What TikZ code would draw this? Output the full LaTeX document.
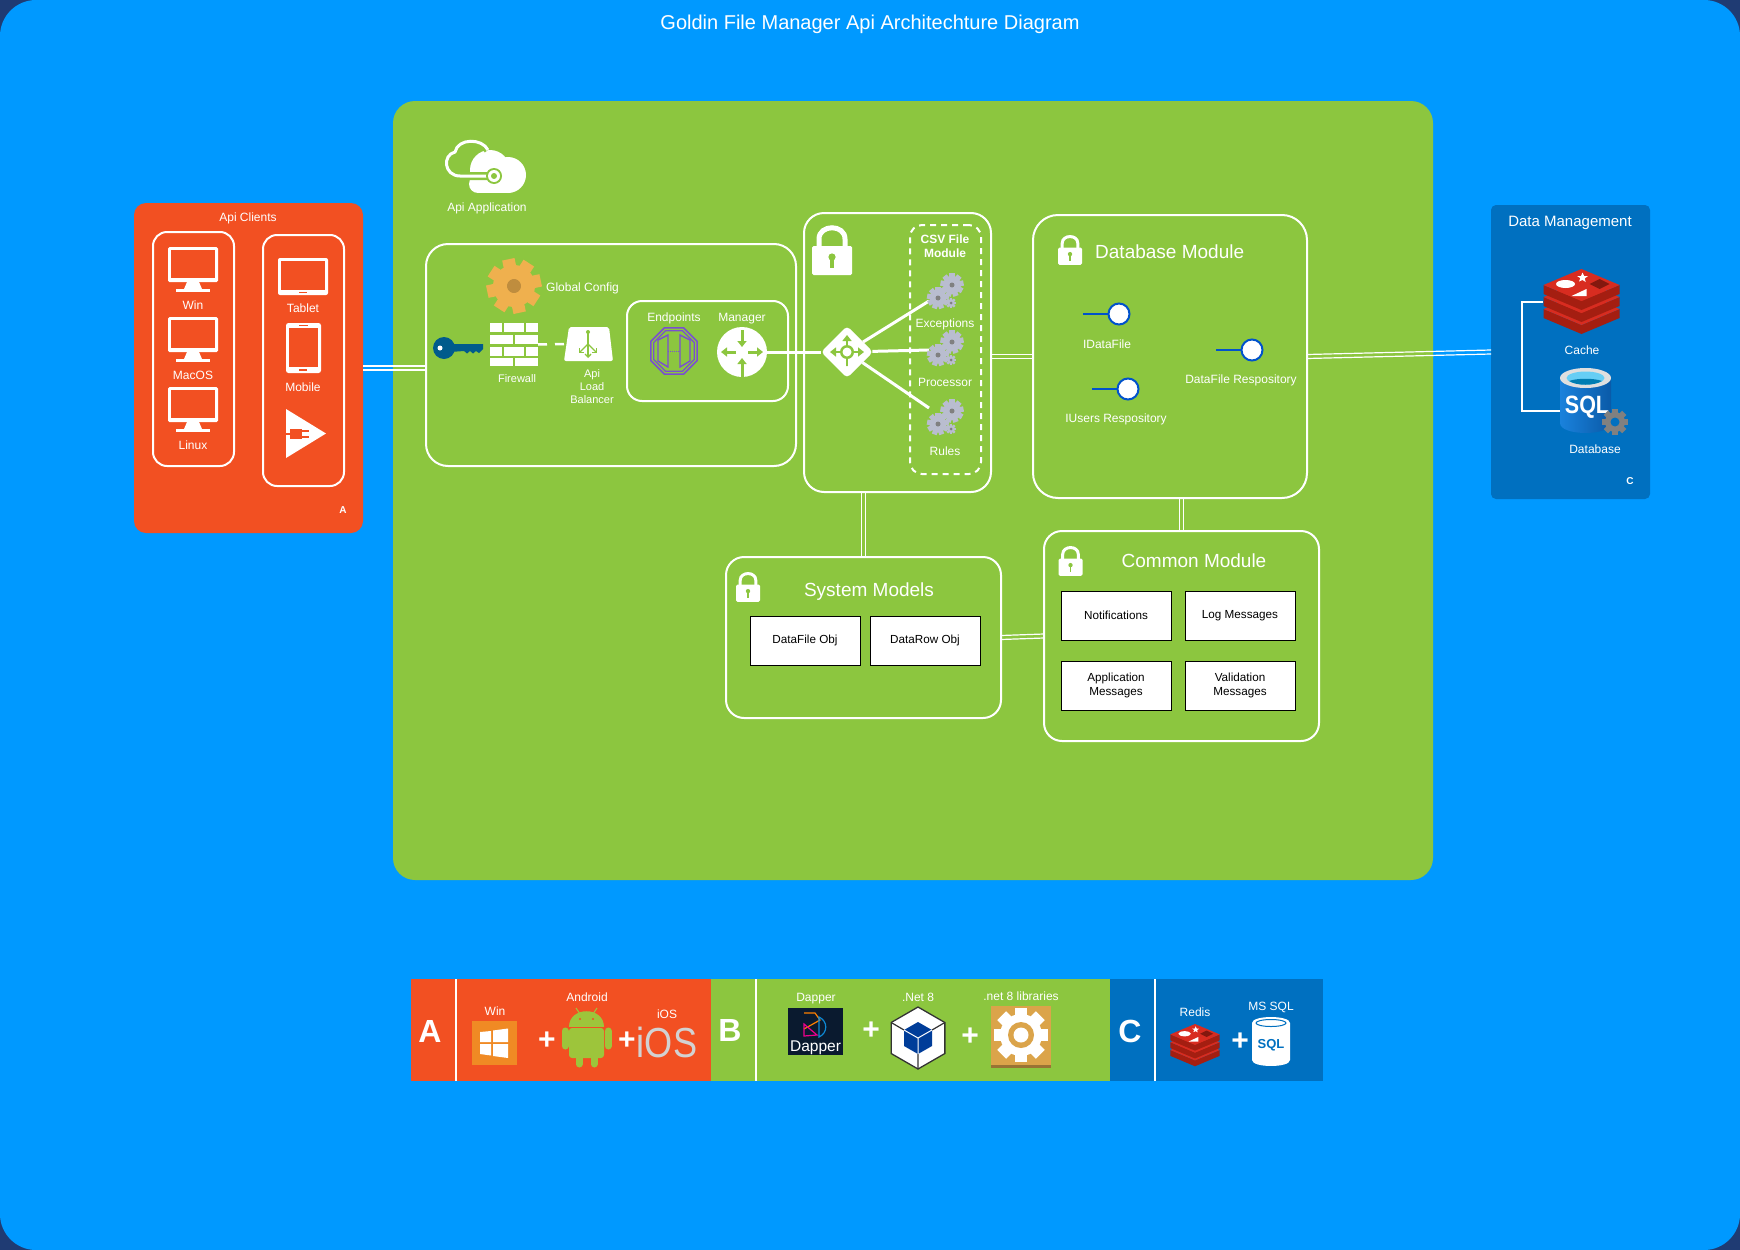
\documentclass[tikz,border=0pt]{standalone}
\usepackage{fontspec}
\setmainfont{Liberation Sans}
\newfontfamily\narrowsans[FakeStretch=0.86]{Liberation Sans}
\usetikzlibrary{positioning,shapes.geometric,arrows.meta}

\definecolor{skyblue}{HTML}{0099FF}
\definecolor{cornerblue}{HTML}{1F3B73}
\definecolor{panelgreen}{HTML}{8CC63F}
\definecolor{clientred}{HTML}{F25022}
\definecolor{dataBlue}{HTML}{0070C0}
\definecolor{keyblue}{HTML}{005B8C}
\definecolor{gearorange}{HTML}{EFB04E}
\definecolor{tileorange}{HTML}{DBA44A}
\definecolor{winorange}{HTML}{F08A24}
\definecolor{steelgear}{HTML}{B9BDCF}
\definecolor{octpurple}{HTML}{7A4FD0}
\definecolor{redistop}{HTML}{D82C20}
\definecolor{redisside}{HTML}{A41E11}
\definecolor{droidgreen}{HTML}{9DC53B}
\definecolor{dappernavy}{HTML}{0A1A2F}
\definecolor{drumleft}{HTML}{1A82DC}
\definecolor{drumright}{HTML}{0A5AA8}

\newcommand{\hlink}[2]{\foreach \off in {-2,2}{\draw[wire,transform canvas={yshift=\off pt}] (#1) -- (#2);}}
\newcommand{\vlink}[2]{\foreach \off in {-2,2}{\draw[wire,transform canvas={xshift=\off pt}] (#1) -- (#2);}}

\tikzset{
  pics/desktop/.style={code={
    \fill[white, rounded corners=1.5pt] (-25,0) rectangle (25,35);
    \fill[clientred] (-22,3) rectangle (22,31);
    \fill[white] (-6,35) -- (6,35) -- (9,42) -- (-9,42) -- cycle;
    \fill[white] (-17,42) rectangle (17,44.5);
  }},
  pics/padlock/.style={code={
    \draw[white, line width=#1] (-13,2) -- (-13,-7) .. controls (-13,-22) and (13,-22) .. (13,-7) -- (13,2);
    \fill[white, rounded corners=1.5pt] (-20,0) rectangle (20,29);
    \fill[panelgreen] (0,11) circle[radius=3.6];
    \fill[panelgreen] (-1.6,11) rectangle (1.6,22);
  }},
  pics/cogwheel/.style n args={5}{code={
    \foreach \t in {1,...,#2}{\fill[#3, rotate=\t*360/#2] (-.3*#1,-1.3*#1) rectangle (.3*#1,0);}
    \fill[#3] (0,0) circle[radius=#1];
    \fill[#5] (0,0) circle[radius=#4];
  }},
  pics/cogset/.style={code={
    \pic at (7,-13) {cogwheel={9}{9}{steelgear}{2.5}{gray}};
    \pic at (-7,0) {cogwheel={8.5}{9}{steelgear}{2.5}{gray}};
    \pic at (6,5) {cogwheel={4}{8}{steelgear}{1.5}{gray}};
  }},
  pics/redisstack/.style={code={
    \foreach \o in {24,12,0}{
      \fill[redisside] (-38,\o+16) -- (-38,\o+25) -- (0,\o+41) -- (38,\o+25) -- (38,\o+16) -- (0,\o+32) -- cycle;
      \fill[redistop] (0,\o) -- (38,\o+16) -- (0,\o+32) -- (-38,\o+16) -- cycle;
    }
    \fill[white] (-16,15) ellipse[x radius=9.5, y radius=4];
    \fill[white] (1,3.5) -- (2.6,7) -- (6.5,7) -- (3.2,9.5) -- (4.2,13) -- (1,11) -- (-2.5,12.5) -- (-1.2,9.2) -- (-4.5,7) -- (-.5,7) -- cycle;
    \fill[white] (-10,27) -- (5,20) -- (5,27) -- cycle;
    \fill[redisside!80!black] (18,10) -- (28,15) -- (18,20) -- (8,15) -- cycle;
  }},
  pics/drum/.style n args={4}{code={
    \path[#4] (-#1,#2) -- (-#1,#3-#2) .. controls (-#1,#3+.33*#2) and (#1,#3+.33*#2) .. (#1,#3-#2)
      -- (#1,#2) .. controls (#1,-.33*#2) and (-#1,-.33*#2) .. cycle;
  }}
}

\begin{document}
\begin{tikzpicture}[
    x=1pt, y=-1pt,
    dims/.style 2 args={rectangle, inner sep=0pt, outer sep=0pt, minimum width=#1pt, minimum height=#2pt},
    region/.style 2 args={fill=#1, rounded corners=#2pt},
    panel/.style={draw=white, line width=2pt, rounded corners=#1pt},
    panel/.default=18,
    textbox/.style={dims={110}{49}, fill=white, draw=black, line width=1pt, align=center, font=\fontsize{11.7}{14.5}\selectfont},
    lbl/.style={text=white, inner sep=0pt, align=center, font=\fontsize{12}{14}\selectfont},
    smalllbl/.style={lbl, font=\fontsize{11}{13}\selectfont},
    heading/.style={lbl, font=\fontsize{19}{22}\selectfont},
    plusmark/.style={lbl, font=\bfseries\fontsize{30}{30}\selectfont},
    letter/.style={lbl, font=\bfseries\fontsize{32}{32}\selectfont},
    wire/.style={draw=white, line width=1.2pt},
    spoke/.style={draw=white, line width=3pt},
    arrowline/.style={draw=panelgreen, line width=3pt, -{Triangle[length=6pt,width=9pt]}},
    port/.style={circle, draw=blue!60!cyan!80!black, line width=2pt, fill=white, minimum size=21pt, inner sep=0pt, outer sep=0pt},
    stem/.style={draw=blue!60!cyan!80!black, line width=2pt}
  ]
  \useasboundingbox (0,0) rectangle (1740,1250);
  \fill[cornerblue] (0,0) rectangle (1740,1250);
  \node[dims={1740}{1250}, region={skyblue}{36}] (canvas) at (870,625) {};
  \node[lbl, font=\fontsize{20}{24}\selectfont] (title) at (870,24) {Goldin File Manager Api Architechture Diagram};

  % big panels
  \node[dims={1040}{779}, region={panelgreen}{22}] (app) at (913,490.5) {};
  \node[dims={229}{330}, region={clientred}{12}] (clients) at (248.5,368) {};
  \node[dims={159}{294}, region={dataBlue}{5}] (data) at (1570.5,352) {};

  % api clients
  \node[lbl] (clientstitle) at (248,218) {Api Clients};
  \node[dims={81}{234}, panel=14] (desktops) at (193.5,349) {};
  \node[dims={81}{251}, panel=14] (mobiles) at (303.5,360.5) {};
  \foreach \yy/\txt/\nm in {247/Win/winlbl,317/MacOS/maclbl,387/Linux/linuxlbl}{
    \pic at (193,\yy) {desktop};
    \node[lbl] (\nm) at (193,\yy+58) {\txt};
  }
  \fill[white, rounded corners=2pt] (278,258) rectangle (328,295);
  \fill[clientred] (281,261) rectangle (325,289.5);
  \fill[clientred] (299,291.5) rectangle (307,293);
  \node[lbl] (tabletlbl) at (303,308) {Tablet};
  \fill[white, rounded corners=2.5pt] (286,323) rectangle (321,373);
  \fill[clientred] (289,328) rectangle (318,367);
  \fill[clientred] (299,324.5) rectangle (308,326);
  \fill[clientred] (299,368.5) rectangle (307,370.5);
  \node[lbl] (mobilelbl) at (303,387) {Mobile};
  \fill[white] (286,409) -- (326,433.5) -- (286,458) -- cycle;
  \fill[clientred] (290,429) rectangle (302,439);
  \fill[clientred] (284,433) rectangle (291,435);
  \fill[clientred] (302,430) rectangle (309,432);
  \fill[clientred] (302,436) rectangle (309,438);
  \node[lbl, font=\bfseries\fontsize{10}{12}\selectfont] (clientsmark) at (343,510) {A};

  % api application
  \fill[white] (490,170) circle[radius=20];
  \fill[white] (508,175) circle[radius=18];
  \fill[white] (478,184) circle[radius=9];
  \fill[white] (478,180) rectangle (510,193);
  \draw[panelgreen, line width=8pt] (494,176) -- (460,176) .. controls (444,176) and (442,155) .. (455,152) .. controls (458,138) and (482,138) .. (488,150);
  \draw[white, line width=3pt] (494,176) -- (460,176) .. controls (444,176) and (442,155) .. (455,152) .. controls (458,138) and (482,138) .. (488,150);
  \fill[panelgreen] (494,176) circle[radius=8];
  \fill[white] (494,176) circle[radius=6];
  \fill[panelgreen] (494,176) circle[radius=3];
  \node[lbl] (applbl) at (487,208) {Api Application};

  % gateway
  \node[dims={370}{222}, panel=22] (gateway) at (611,355) {};
  \pic[rotate=12] at (514,286) {cogwheel={21}{8}{gearorange}{7}{gearorange!80!black}};
  \node[lbl, anchor=west] (configlbl) at (546,288) {Global Config};
  \fill[keyblue] (444,348) circle[radius=11];
  \fill[keyblue] (450,344) -- (483,344) -- (483,349) -- (479,353) -- (476,351) -- (473,353.5) -- (470,351) -- (467,353.5) -- (464,351) -- (450,352) -- cycle;
  \fill[white] (440,348) circle[radius=2.5];
  \node[dims={48}{43}] (firewall) at (514,344.5) {};
  \foreach \yy in {323,347}{
    \fill[white] (490,\yy) rectangle (502,\yy+8.5);
    \fill[white] (504,\yy) rectangle (524,\yy+8.5);
    \fill[white] (526,\yy) rectangle (538,\yy+8.5);
  }
  \foreach \yy in {335,357.5}{
    \fill[white] (490,\yy) rectangle (513,\yy+8.5);
    \fill[white] (515,\yy) rectangle (538,\yy+8.5);
  }
  \node[smalllbl] (firewalllbl) at (517,379) {Firewall};
  \node[dims={49}{34}] (balancer) at (588.5,344) {};
  \fill[white, rounded corners=2pt] (569,327) -- (609,327) -- (613,361) -- (564,361) -- cycle;
  \draw[panelgreen, line width=1.3pt, -{Straight Barb[length=3pt,width=6pt]}] (588,332) -- (588,358);
  \draw[panelgreen, line width=1.3pt, -{Straight Barb[length=3pt,width=6pt]}] (588,344) -- (579,353);
  \draw[panelgreen, line width=1.3pt, -{Straight Barb[length=3pt,width=6pt]}] (588,344) -- (597,353);
  \fill[panelgreen] (588,332) circle[radius=2];
  \draw[white, line width=2.5pt, dash pattern=on 9pt off 8pt] (firewall.east) -- (balancer.west);
  \node[smalllbl] (balancerlbl) at (592,387) {Api\\Load\\Balancer};

  \node[dims={161}{100}, panel=15] (routes) at (707.5,351) {};
  \node[lbl] (endpointslbl) at (674,318) {Endpoints};
  \node[lbl] (managerlbl) at (742,319) {Manager};
  \node[regular polygon, regular polygon sides=8, draw=octpurple, line width=1.6pt, minimum size=50pt, inner sep=0pt] (endpoints) at (674,351) {};
  \node[regular polygon, regular polygon sides=8, draw=octpurple, line width=1.2pt, minimum size=44pt, inner sep=0pt] (endpointsin) at (674,351) {};
  \draw[octpurple, line width=1.4pt] (658,340) -- (668,335) -- (668,367) -- (658,361) -- cycle (690,340) -- (680,335) -- (680,367) -- (690,361) -- cycle;
  \draw[octpurple, line width=1pt, densely dotted] (668,351) -- (680,351);
  \node[circle, fill=white, minimum size=50pt, inner sep=0pt, outer sep=0pt] (manager) at (742,352) {};
  \draw[arrowline] (742,330) -- (742,347);
  \draw[arrowline] (742,377) -- (742,358);
  \draw[arrowline] (736,352) -- (721,352);
  \draw[arrowline] (748,352) -- (763,352);

  % csv module
  \node[dims={187}{279}, panel=20] (cage) at (897.5,352.5) {};
  \pic at (832,246) {padlock=5pt};
  \node[dims={71}{249}, panel=12, dashed, dash pattern=on 6pt off 5pt] (csvmodule) at (945.5,349.5) {};
  \node[lbl, font=\bfseries\fontsize{12}{14}\selectfont] (csvlbl) at (945,246) {CSV File\\Module};
  \node[diamond, fill=white, rounded corners=4pt, minimum size=52pt, inner sep=0pt, outer sep=0pt] (hub) at (847,352) {};
  \draw[arrowline, line width=2.5pt] (847,352) -- (847,335);
  \draw[arrowline, line width=2.5pt] (847,352) -- (830,352);
  \draw[arrowline, line width=2.5pt] (847,352) -- (864,352);
  \draw[panelgreen, line width=2.5pt] (847,352) -- (847,368);
  \fill[panelgreen] (847,352) circle[radius=7];
  \fill[white] (847,352) circle[radius=4.5];
  \fill[white] (847,369) circle[radius=3];
  \coordinate (excin) at (929,301);
  \coordinate (procin) at (929,350);
  \coordinate (rulesin) at (929,408);
  \draw[spoke] (manager) -- (hub);
  \draw[spoke] (hub) -- (excin);
  \draw[spoke] (hub) -- (procin);
  \draw[spoke] (hub) -- (rulesin);
  \pic at (945,298) {cogset};
  \pic at (945,355) {cogset};
  \pic at (945,424) {cogset};
  \node[lbl] (exclbl) at (945,324) {Exceptions};
  \node[lbl] (proclbl) at (945,382) {Processor};
  \node[lbl] (ruleslbl) at (945,451) {Rules};

  % database module
  \node[dims={274}{283}, panel=25] (dbmodule) at (1170,356.5) {};
  \pic[scale=.6] at (1070,247.5) {padlock=3pt};
  \node[heading, anchor=west] (dbtitle) at (1095,252) {Database Module};
  \node[port] (idatafile) at (1119,314) {};
  \node[port] (iusers) at (1128,389) {};
  \node[port] (filerepo) at (1252,350) {};
  \draw[stem] (idatafile) -- ++(-36,0);
  \draw[stem] (iusers) -- ++(-36,0);
  \draw[stem] (filerepo) -- ++(-36,0);
  \node[lbl] (idatalbl) at (1107,344) {IDataFile};
  \node[lbl] (iuserslbl) at (1116,419) {IUsers Respository};
  \node[lbl] (repolbl) at (1241,380) {DataFile Respository};

  % system models
  \node[dims={275}{161}, panel=18] (sysmodels) at (863.5,637.5) {};
  \pic[scale=.6] at (748,584.5) {padlock=3pt};
  \node[heading] (systitle) at (869,592) {System Models};
  \node[textbox] (filebox) at (805,640.5) {DataFile Obj};
  \node[textbox, right=10pt of filebox] (rowbox) {DataRow Obj};

  % common module
  \node[dims={275}{210}, panel=18] (common) at (1181.5,636) {};
  \pic[scale=.6] at (1070.5,558.5) {padlock=3pt};
  \node[heading] (commontitle) at (1194,561) {Common Module};
  \node[textbox] (notebox) at (1116,615.5) {Notifications};
  \node[textbox, right=14pt of notebox] (logbox) {Log Messages};
  \node[textbox, below=21pt of notebox] (appbox) {Application\\Messages};
  \node[textbox, below=21pt of logbox] (validbox) {Validation\\Messages};

  % data management
  \node[lbl, font=\fontsize{15}{17}\selectfont] (datatitle) at (1570,223) {Data Management};
  \node[dims={77}{66}] (cache) at (1581.5,302) {};
  \node[dims={51}{65}] (sqldb) at (1585.5,400.5) {};
  \draw[white, line width=2.5pt] (cache.west) -- ++(-21,0) |- ([yshift=-10.5pt]sqldb.west);
  \pic at (1581.5,269) {redisstack};
  \pic at (1585.5,368) {drum={25.5}{10}{65}{left color=drumleft, right color=drumright}};
  \fill[gray!25!white] (1585.5,378) ellipse[x radius=25.5, y radius=10];
  \fill[cyan!60!white] (1585.5,378) ellipse[x radius=19, y radius=6.5];
  \fill[blue!30!cyan!70!black] (1569,381) .. controls (1577,386) and (1594,386) .. (1602,381) .. controls (1594,378) and (1577,378) .. cycle;
  \node[lbl, font=\narrowsans\bfseries\fontsize{25}{27}\selectfont] (sqllbl) at (1587,407) {SQL};
  \pic at (1615,422) {cogwheel={10}{8}{gray}{4.5}{dataBlue}};
  \node[lbl] (cachelbl) at (1582,350) {Cache};
  \node[lbl] (dblbl) at (1595,449) {Database};
  \node[lbl, font=\bfseries\fontsize{10}{12}\selectfont] (datamark) at (1630,481) {C};

  % links between the modules
  \hlink{clients.east}{clients.east -| gateway.west}
  \hlink{dbmodule.west -| cage.east}{dbmodule.west}
  \hlink{dbmodule.east}{data.west}
  \hlink{sysmodels.east}{common.west}
  \vlink{sysmodels.north |- cage.south}{sysmodels.north}
  \vlink{common.north |- dbmodule.south}{common.north}

  % legend strip
  \node[dims={45}{102}, fill=clientred] (cellA) at (433.5,1030) {};
  \node[dims={255}{102}, fill=clientred] (bodyA) at (583.5,1030) {};
  \node[dims={45}{102}, fill=panelgreen] (cellB) at (733.5,1030) {};
  \node[dims={354}{102}, fill=panelgreen] (bodyB) at (933,1030) {};
  \node[dims={45}{102}, fill=dataBlue] (cellC) at (1132.5,1030) {};
  \node[dims={168}{102}, fill=dataBlue] (bodyC) at (1239,1030) {};
  \draw[white, line width=1.6pt] (cellA.north east) -- (cellA.south east);
  \draw[white, line width=1.6pt] (cellB.north east) -- (cellB.south east);
  \draw[white, line width=1.6pt] (cellC.north east) -- (cellC.south east);
  \node[letter] (letterA) at (430,1031) {A};
  \node[letter] (letterB) at (730,1030) {B};
  \node[letter] (letterC) at (1130,1031) {C};

  \node[lbl] (winlegend) at (495,1011) {Win};
  \fill[winorange] (472,1021) rectangle (517,1065);
  \fill[white] (480,1032) -- (491,1031) -- (491,1042) -- (480,1042) -- cycle;
  \fill[white] (493,1030.5) -- (508,1028.5) -- (508,1042) -- (493,1042) -- cycle;
  \fill[white] (480,1044) -- (491,1044) -- (491,1055.5) -- (480,1054) -- cycle;
  \fill[white] (493,1044) -- (508,1044) -- (508,1058) -- (493,1056) -- cycle;
  \node[plusmark] (plusone) at (547,1041) {+};
  \node[lbl] (androidlegend) at (587,997) {Android};
  \fill[droidgreen] (569,1026.5) .. controls (569,1006) and (604,1006) .. (604,1026.5) -- cycle;
  \fill[droidgreen, rounded corners=3pt] (569,1028) rectangle (604,1058);
  \draw[droidgreen, line width=7pt, line cap=round] (565,1031) -- (565,1046) (608,1031) -- (608,1046) (579,1056) -- (579,1064) (594,1056) -- (594,1064);
  \draw[droidgreen, line width=1pt] (576,1008) -- (580,1014) (597,1008) -- (593,1014);
  \fill[clientred] (580,1019) circle[radius=1.2] (593,1019) circle[radius=1.2];
  \node[plusmark] (plustwo) at (627,1041) {+};
  \node[lbl] (ioslegend) at (667,1014) {iOS};
  \node[lbl, text=gray!35!white, font=\narrowsans\fontsize{42}{42}\selectfont] (iosmark) at (667,1042) {iOS};

  \node[lbl] (dapperlegend) at (816,999) {Dapper};
  \node[dims={55}{47}, fill=dappernavy] (dapperlogo) at (815.5,1031.5) {};
  \node[lbl, font=\fontsize{15.5}{17}\selectfont] (dappertxt) at (815.5,1048) {Dapper};
  \draw[orange, line width=1.2pt] (804,1013) -- (815,1013) -- (820,1020) -- (804,1029);
  \draw[magenta, line width=1.2pt] (804,1024) -- (817,1035) -- (804,1036) -- cycle;
  \draw[cyan!70!blue, line width=1.2pt] (819,1017) .. controls (828,1021) and (828,1033) .. (819,1037) -- cycle;
  \node[plusmark] (plusthree) at (871,1031) {+};
  \node[lbl] (netlegend) at (918,997) {.Net 8};
  \node[regular polygon, regular polygon sides=6, shape border rotate=90, fill=white, draw=black!80, line width=1.3pt, minimum size=62pt, inner sep=0pt] (nethex) at (918,1038) {};
  \draw[black!80, line width=1.2pt] (892,1023) -- (904,1030) (944,1023) -- (932,1030) (918,1069) -- (918,1054);
  \fill[blue!60!cyan!60!black] (918,1022) -- (932,1030) -- (932,1046) -- (918,1054) -- (904,1046) -- (904,1030) -- cycle;
  \draw[white, line width=1pt] (904,1030) -- (918,1038) -- (932,1030) (918,1038) -- (918,1054);
  \node[plusmark] (plusfour) at (970,1037) {+};
  \node[lbl] (liblegend) at (1021,996) {.net 8 libraries};
  \node[dims={60}{62}, fill=tileorange] (libtile) at (1021,1037) {};
  \fill[tileorange!70!black] (991,1065) rectangle (1051,1068);
  \pic at (1021,1035) {cogwheel={21}{8}{white}{13}{tileorange}};
  \fill[white] (1021,1035) circle[radius=7.5];

  \node[lbl] (redislegend) at (1195,1012) {Redis};
  \pic[scale=.65] at (1195,1024) {redisstack};
  \node[plusmark] (plusfive) at (1240,1042) {+};
  \node[lbl] (mssqllegend) at (1271,1007) {MS SQL};
  \node[dims={38}{49}] (sqllegend) at (1271,1041.5) {};
  \pic at (1271,1017) {drum={19}{6}{49}{fill=white}};
  \draw[dataBlue, line width=1pt] (1271,1023) ellipse[x radius=15, y radius=3.5];
  \node[lbl, text=dataBlue, font=\bfseries\fontsize{13}{15}\selectfont] (sqlmark) at (1271,1045) {SQL};
\end{tikzpicture}
\end{document}
